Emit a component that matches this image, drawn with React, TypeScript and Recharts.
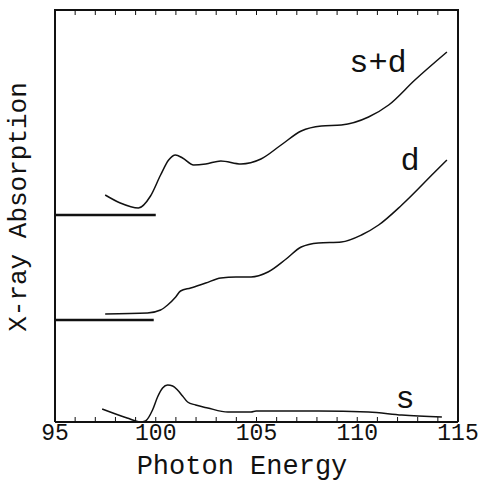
import React from 'react';
import { LineChart, Line, XAxis, YAxis, ReferenceDot } from 'recharts';

// Photon energy (x) and relative absorption (y, arbitrary units, curves offset vertically)
const sdEnergy = [97.49, 98.24, 99.14, 99.74, 100.24, 100.64, 100.98, 101.33, 101.88, 102.48, 103.23, 104.23, 105.22, 106.22, 107.22, 108.22, 109.21, 110.56, 111.56, 112.86, 114.45];
const sdValue = [227, 219, 214, 226, 247, 262, 267, 264, 257, 258, 261, 258, 263, 277, 291, 296, 297, 305, 317, 342, 370];

const dEnergy = [97.49, 99.59, 100.24, 100.59, 100.99, 101.23, 101.73, 102.48, 103.23, 103.98, 104.73, 105.57, 106.47, 107.22, 108.07, 109.21, 110.21, 111.06, 112.21, 113.85, 114.45];
const dValue = [108, 109, 112, 117, 125, 131, 134, 139, 144, 145, 145, 150, 163, 175, 179, 180, 187, 197, 217, 250, 262];

const sEnergy = [97.34, 98.58, 99.24, 99.49, 99.84, 100.09, 100.34, 100.59, 100.84, 101.08, 101.33, 101.58, 101.98, 102.58, 103.58, 104.73, 104.98, 106.37, 108.07, 110.56, 112.21, 114.2];
const sValue = [13, 4, 0, 1, 12, 25, 34, 37, 36, 32, 26, 20, 17, 14, 10, 10, 11, 11, 11, 10, 7, 5];

const sdBaseEnergy = [95, 100];
const sdBaseValue = [207, 207];
const dBaseEnergy = [95, 99.9];
const dBaseValue = [102, 102];

const xTicks = [95, 96, 97, 98, 99, 100, 101, 102, 103, 104, 105, 106, 107, 108, 109, 110, 111, 112, 113, 114, 115];
const labeledTicks = [95, 100, 105, 110, 115];
const X_MIN = 95;
const X_MAX = 115;
const Y_MAX = 412;

const zip = (xs: number[], ys: number[]) => xs.map((x, i) => ({ x, y: ys[i] }));

const sdData = zip(sdEnergy, sdValue);
const dData = zip(dEnergy, dValue);
const sData = zip(sEnergy, sValue);
const sdBase = zip(sdBaseEnergy, sdBaseValue);
const dBase = zip(dBaseEnergy, dBaseValue);

const INK = '#111';
const FONT = '"Liberation Mono", "DejaVu Sans Mono", monospace';

// chart layout
const W = 478;
const H = 482;
const MARGIN = { top: 10, right: 19, bottom: 30, left: 54 };
const X_AXIS_H = 30;
const Y_AXIS_W = 1;
const PLOT_H = H - MARGIN.top - MARGIN.bottom - X_AXIS_H;
const PLOT_W = W - MARGIN.left - MARGIN.right - 2 * Y_AXIS_W;
const PLOT_X = MARGIN.left + Y_AXIS_W;
const PLOT_Y = MARGIN.top;
const topX = (v: number) => PLOT_X + ((v - X_MIN) / (X_MAX - X_MIN)) * PLOT_W;

const BottomTick = (props: any) => {
  const { x, y, payload } = props;
  const v = payload.value;
  const labeled = labeledTicks.includes(v);
  return (
    <g>
      <line x1={x} y1={y} x2={x} y2={y - 5} stroke={INK} strokeWidth={1} />
      {labeled && (
        <text x={x} y={y + 18} textAnchor="middle" fontFamily={FONT} fontSize={23} fill={INK}>
          {v}
        </text>
      )}
    </g>
  );
};

const textLabel = (text: string) => (props: any) => {
  const { viewBox } = props;
  const cx = viewBox.x + (viewBox.width || 0) / 2;
  const cy = viewBox.y + (viewBox.height || 0) / 2;
  return (
    <text x={cx} y={cy} textAnchor="middle" dominantBaseline="central" fontFamily={FONT} fontSize={32} fill={INK}>
      {text}
    </text>
  );
};

export default function App() {
  return (
    <div style={{ position: 'absolute', left: 0, top: 0, width: W, height: H, background: '#fff' }}>
      <LineChart width={W} height={H} margin={MARGIN}>
        <XAxis
          xAxisId="b"
          type="number"
          dataKey="x"
          domain={[X_MIN, X_MAX]}
          ticks={xTicks}
          allowDataOverflow
          tickLine={false}
          tickSize={0}
          tickMargin={0}
          height={X_AXIS_H}
          axisLine={{ stroke: INK, strokeWidth: 2 }}
          tick={<BottomTick />}
          interval={0}
        />
        <YAxis
          yAxisId="l"
          type="number"
          domain={[0, Y_MAX]}
          width={Y_AXIS_W}
          tick={false}
          tickLine={false}
          axisLine={{ stroke: INK, strokeWidth: 2 }}
        />
        <YAxis
          yAxisId="r"
          orientation="right"
          type="number"
          domain={[0, Y_MAX]}
          width={Y_AXIS_W}
          tick={false}
          tickLine={false}
          axisLine={{ stroke: INK, strokeWidth: 2 }}
        />
        <Line xAxisId="b" yAxisId="l" data={sdBase} dataKey="y" type="linear" stroke={INK} strokeWidth={2.5} dot={false} isAnimationActive={false} />
        <Line xAxisId="b" yAxisId="l" data={dBase} dataKey="y" type="linear" stroke={INK} strokeWidth={2.5} dot={false} isAnimationActive={false} />
        <Line xAxisId="b" yAxisId="l" data={sdData} dataKey="y" type="monotone" stroke={INK} strokeWidth={1.5} dot={false} isAnimationActive={false} />
        <Line xAxisId="b" yAxisId="l" data={dData} dataKey="y" type="monotone" stroke={INK} strokeWidth={1.5} dot={false} isAnimationActive={false} />
        <Line xAxisId="b" yAxisId="l" data={sData} dataKey="y" type="monotone" stroke={INK} strokeWidth={1.5} dot={false} isAnimationActive={false} />
        <ReferenceDot xAxisId="b" yAxisId="l" x={111.03} y={359} r={0} label={{ content: textLabel('s+d') }} />
        <ReferenceDot xAxisId="b" yAxisId="l" x={112.62} y={261} r={0} label={{ content: textLabel('d') }} />
        <ReferenceDot xAxisId="b" yAxisId="l" x={112.37} y={23} r={0} label={{ content: textLabel('s') }} />
      </LineChart>
      <svg width={W} height={H} style={{ position: 'absolute', left: 0, top: 0, pointerEvents: 'none' }}>
        <line x1={PLOT_X - 1} y1={PLOT_Y} x2={PLOT_X + PLOT_W + 1} y2={PLOT_Y} stroke={INK} strokeWidth={2} />
        {xTicks.map((t) => (
          <line key={t} x1={topX(t)} y1={PLOT_Y} x2={topX(t)} y2={PLOT_Y + 5} stroke={INK} strokeWidth={1} />
        ))}
        <text
          x={19}
          y={207}
          textAnchor="middle"
          dominantBaseline="central"
          fontFamily={FONT}
          fontSize={26}
          fill={INK}
          transform="rotate(-90 19 207)"
        >
          X-ray Absorption
        </text>
        <text x={242} y={467} textAnchor="middle" dominantBaseline="central" fontFamily={FONT} fontSize={27} fill={INK}>
          Photon Energy
        </text>
      </svg>
    </div>
  );
}
